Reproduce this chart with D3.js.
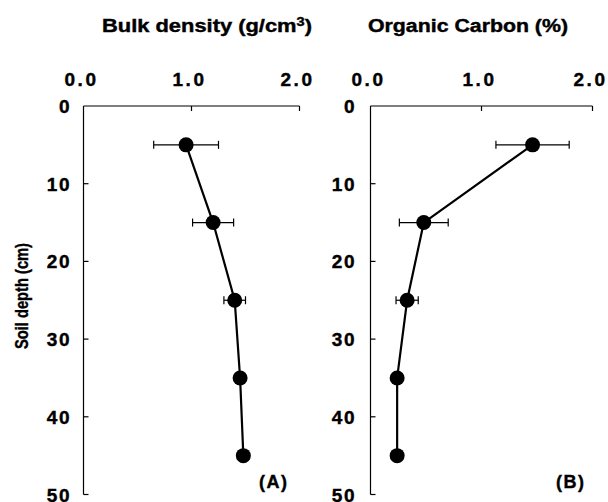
<!DOCTYPE html>
<html>
<head>
<meta charset="utf-8">
<script src="https://cdn.jsdelivr.net/npm/d3@7"></script>
<style>
  body { margin: 0; background: #fff; }
  text { font-family: "Liberation Sans", Arial, sans-serif; font-weight: bold; fill: #000; stroke: #000; stroke-width: 0.4; }
</style>
</head>
<body>
<svg id="chart" width="608" height="502"></svg>
<script>
// depths (cm) shared by both panels
const depths = [5, 15, 25, 35, 45];

// panel A: bulk density (g/cm3)
const bulkDensity = [0.95, 1.20, 1.40, 1.45, 1.48];
const bulkDensityErr = [0.30, 0.19, 0.10, 0, 0];

// panel B: organic carbon (%)
const organicCarbon = [1.46, 0.48, 0.33, 0.24, 0.24];
const organicCarbonErr = [0.33, 0.22, 0.10, 0, 0];

const xTicks = [0, 1, 2];
const yTicks = [0, 10, 20, 30, 40, 50];

const svg = d3.select("#chart");

const y = d3.scaleLinear().domain([0, 50]).range([106, 494.5]);

// one depth-profile panel
function panel(x, values, errs, title, titleX, titleLen, tag, tagX, labelEnd) {
  const g = svg.append("g");
  const data = depths.map((d, i) => ({ depth: d, v: values[i], e: errs[i] }));

  // top axis line + inward ticks
  g.append("line")
    .attr("x1", x(0)).attr("x2", x(2))
    .attr("y1", y(0)).attr("y2", y(0))
    .attr("stroke", "#000").attr("stroke-width", 1.2);
  g.selectAll(".xt").data(xTicks.slice(1)).enter().append("line")
    .attr("x1", d => x(d)).attr("x2", d => x(d))
    .attr("y1", y(0)).attr("y2", y(0) + 5)
    .attr("stroke", "#000").attr("stroke-width", 1.2);
  g.selectAll(".xl").data(xTicks).enter().append("text")
    .attr("x", d => x(d) - 2).attr("y", 86)
    .attr("text-anchor", "middle")
    .attr("font-size", 19)
    .attr("letter-spacing", 2.5)
    .text(d => d.toFixed(1));

  // left axis line + inward ticks
  g.append("line")
    .attr("x1", x(0)).attr("x2", x(0))
    .attr("y1", y(0)).attr("y2", y(50))
    .attr("stroke", "#000").attr("stroke-width", 1.2);
  g.selectAll(".yt").data(yTicks.slice(1)).enter().append("line")
    .attr("x1", x(0)).attr("x2", x(0) + 5)
    .attr("y1", d => y(d)).attr("y2", d => y(d))
    .attr("stroke", "#000").attr("stroke-width", 1.2);
  g.selectAll(".yl").data(yTicks).enter().append("text")
    .attr("x", labelEnd).attr("y", d => y(d) + 7)
    .attr("text-anchor", "end")
    .attr("font-size", 19)
    .attr("letter-spacing", 1.5)
    .text(d => d);

  // title
  g.append("text")
    .attr("x", titleX).attr("y", 32)
    .attr("font-size", 18)
    .attr("textLength", titleLen)
    .attr("lengthAdjust", "spacingAndGlyphs")
    .html(title);

  // error bars
  const eb = data.filter(d => d.e > 0);
  g.selectAll(".eb").data(eb).enter().append("line")
    .attr("x1", d => x(d.v - d.e)).attr("x2", d => x(d.v + d.e))
    .attr("y1", d => y(d.depth)).attr("y2", d => y(d.depth))
    .attr("stroke", "#000").attr("stroke-width", 1.2);
  ["lo", "hi"].forEach(side => {
    g.selectAll(".cap" + side).data(eb).enter().append("line")
      .attr("x1", d => x(side == "lo" ? d.v - d.e : d.v + d.e))
      .attr("x2", d => x(side == "lo" ? d.v - d.e : d.v + d.e))
      .attr("y1", d => y(d.depth) - 4).attr("y2", d => y(d.depth) + 4)
      .attr("stroke", "#000").attr("stroke-width", 1.2);
  });

  // connecting line
  g.append("path")
    .datum(data)
    .attr("fill", "none").attr("stroke", "#000").attr("stroke-width", 2.2)
    .attr("d", d3.line().x(d => x(d.v)).y(d => y(d.depth)));

  // points
  g.selectAll("circle").data(data).enter().append("circle")
    .attr("cx", d => x(d.v)).attr("cy", d => y(d.depth))
    .attr("r", 7.5).attr("fill", "#000");

  // panel tag
  g.append("text")
    .attr("x", tagX).attr("y", 488)
    .attr("font-size", 18)
    .attr("letter-spacing", 1.5)
    .text(tag);
}

const xA = d3.scaleLinear().domain([0, 2]).range([83.5, 299.5]);
const xB = d3.scaleLinear().domain([0, 2]).range([370.5, 592.5]);

panel(xA, bulkDensity, bulkDensityErr,
  'Bulk density (g/cm<tspan dy="-6" font-size="12">3</tspan><tspan dy="6">)</tspan>',
  102, 210, "(A)", 259, 71);
panel(xB, organicCarbon, organicCarbonErr,
  "Organic Carbon (%)", 368, 200, "(B)", 556, 356);

// shared y title
svg.append("text")
  .attr("transform", "translate(28,296) rotate(-90)")
  .attr("text-anchor", "middle")
  .attr("font-size", 19)
  .attr("textLength", 106)
  .attr("lengthAdjust", "spacingAndGlyphs")
  .text("Soil depth (cm)");
</script>
</body>
</html>
